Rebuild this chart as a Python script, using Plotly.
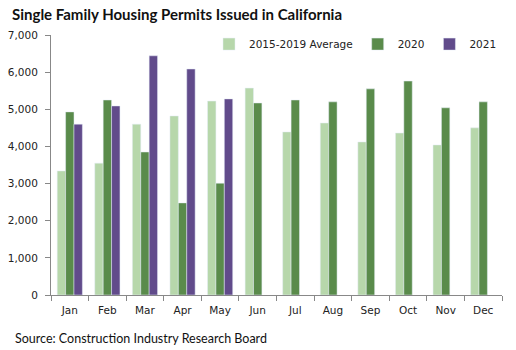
import plotly.graph_objects as go

months = ["Jan", "Feb", "Mar", "Apr", "May", "Jun", "Jul", "Aug", "Sep", "Oct", "Nov", "Dec"]
avg_2015_2019 = [3340, 3550, 4600, 4820, 5220, 5570, 4390, 4630, 4120, 4360, 4040, 4500]
y2020 = [4930, 5250, 3850, 2480, 3010, 5170, 5250, 5200, 5550, 5760, 5040, 5200]
y2021 = [4600, 5090, 6440, 6085, 5280]
months_2021 = months[:5]

tick_vals = [0, 1000, 2000, 3000, 4000, 5000, 6000, 7000]
tick_text = ["0", "1,000", "2,000", "3,000", "4,000", "5,000", "6,000", "7,000"]

fig = go.Figure()
fig.add_trace(go.Bar(name="2015-2019 Average", x=months, y=avg_2015_2019, marker_color="#b7d7ab"))
fig.add_trace(go.Bar(name="2020", x=months, y=y2020, marker_color="#5a8b4b"))
fig.add_trace(go.Bar(name="2021", x=months_2021, y=y2021, marker_color="#614b8b"))

axis_font = dict(family="DejaVu Sans", size=10.5, color="#222222")

fig.update_layout(
    width=516, height=350,
    margin=dict(l=51, r=14, t=35, b=55),
    paper_bgcolor="white", plot_bgcolor="white",
    barmode="group", bargap=0.33, bargroupgap=0,
    showlegend=True,
    legend=dict(orientation="h", x=1.0, xanchor="right", y=0.965, yanchor="middle",
                font=dict(family="DejaVu Sans", size=10.5, color="#222222"),
                traceorder="normal", bgcolor="rgba(0,0,0,0)"),
    title=dict(text="<b>Single Family Housing Permits Issued in California</b>",
               x=12/516, xanchor="left", y=1 - 15/350, yanchor="middle",
               font=dict(family="Lato", size=15, color="#111111")),
    xaxis=dict(categoryorder="array", categoryarray=months,
               showline=True, linecolor="#888888", linewidth=1,
               ticks="outside", tickson="boundaries", ticklen=5, tickcolor="#888888",
               tickfont=axis_font, tickangle=0, automargin=False, ticklabelstandoff=5,
               showgrid=False, fixedrange=True),
    yaxis=dict(range=[0, 7000], tickvals=tick_vals, ticktext=tick_text,
               showline=True, linecolor="#888888", linewidth=1,
               ticks="outside", ticklen=5, tickcolor="#888888",
               tickfont=axis_font, automargin=False, ticklabelstandoff=5,
               showgrid=False, zeroline=False, fixedrange=True),
    annotations=[dict(text="Source: Construction Industry Research Board",
                      xref="paper", yref="paper", x=-38/451, y=-43/260,
                      xanchor="left", yanchor="middle", showarrow=False,
                      font=dict(family="Lato", size=12.5, color="#111111"))],
)

fig.write_html("out.html")
